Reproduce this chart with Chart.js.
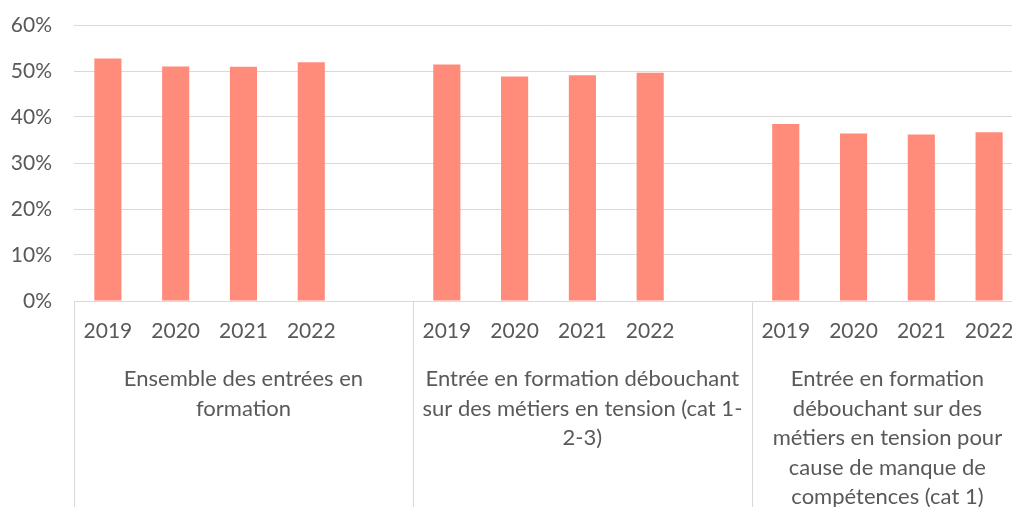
<!DOCTYPE html>
<html>
<head>
<meta charset="utf-8">
<script src="https://cdn.jsdelivr.net/npm/chart.js@4"></script>
<style>
  html, body { margin: 0; padding: 0; background: #fff; overflow: hidden; }
  canvas { display: block; }
</style>
</head>
<body>
<canvas id="chart" width="1024" height="507"></canvas>
<script>
// données
const years = ['2019', '2020', '2021', '2022'];
const groups = [
  ['Ensemble des entrées en', 'formation'],
  ['Entrée en formation débouchant', 'sur des métiers en tension (cat 1-', '2-3)'],
  ['Entrée en formation', 'débouchant sur des', 'métiers en tension pour', 'cause de manque de', 'compétences (cat 1)']
];
const values = [
  [0.527, 0.510, 0.509, 0.519],
  [0.514, 0.488, 0.491, 0.496],
  [0.385, 0.364, 0.362, 0.367]
];
// une case vide après les deux premiers groupes (comme dans l'original)
const blankAfter = [true, true, false];
const yTicks = [0, 0.1, 0.2, 0.3, 0.4, 0.5, 0.6];

const textColor = '#595959';
const gridColor = '#D9D9D9';
const barColor = '#FF8B7B';
const font = 'Lato';

// construction des catégories à plat
const labels = [];
const data = [];
const groupStart = [];
groups.forEach((g, i) => {
  groupStart.push(labels.length);
  years.forEach((y, j) => { labels.push(y); data.push(values[i][j]); });
  if (blankAfter[i]) { labels.push(''); data.push(null); }
});
groupStart.push(labels.length);

const groupLabels = {
  id: 'groupLabels',
  afterDraw(chart) {
    const { ctx, chartArea, scales } = chart;
    const x = scales.x;
    const half = (x.getPixelForValue(1) - x.getPixelForValue(0)) / 2;
    ctx.save();
    ctx.strokeStyle = gridColor;
    ctx.lineWidth = 1;
    for (let k = 0; k < groupStart.length; k++) {
      const px = Math.round(x.getPixelForValue(groupStart[k]) - half) + 0.5;
      ctx.beginPath();
      ctx.moveTo(px, chartArea.bottom);
      ctx.lineTo(px, chart.height);
      ctx.stroke();
    }
    ctx.fillStyle = textColor;
    ctx.font = '22px ' + font;
    ctx.textAlign = 'center';
    ctx.textBaseline = 'middle';
    groups.forEach((lines, i) => {
      const left = x.getPixelForValue(groupStart[i]) - half;
      const right = x.getPixelForValue(groupStart[i + 1]) - half;
      const cx = (left + right) / 2;
      lines.forEach((t, l) => ctx.fillText(t, cx, chartArea.bottom + 78 + l * 29.5));
    });
    ctx.restore();
  }
};

new Chart(document.getElementById('chart'), {
  type: 'bar',
  data: {
    labels: labels,
    datasets: [{
      data: data,
      backgroundColor: barColor,
      categoryPercentage: 1,
      barPercentage: 0.4
    }]
  },
  options: {
    responsive: false,
    animation: false,
    layout: { padding: { top: 25, right: 1, left: 0, bottom: 0 } },
    plugins: { legend: { display: false }, tooltip: { enabled: false } },
    scales: {
      x: {
        grid: { display: false, drawTicks: false },
        border: { display: true, color: gridColor },
        ticks: {
          color: textColor, font: { family: font, size: 21 },
          autoSkip: false, maxRotation: 0, padding: 18
        },
        afterFit(scale) { scale.height = 206; scale.paddingLeft = 0; scale.paddingRight = 0; }
      },
      y: {
        min: 0, max: 0.6,
        afterBuildTicks(scale) { scale.ticks = yTicks.map(v => ({ value: v })); },
        grid: { color: gridColor, drawTicks: false },
        border: { display: false },
        ticks: {
          color: textColor, font: { family: font, size: 21 }, padding: 22,
          callback: v => Math.round(v * 100) + '%'
        },
        afterFit(scale) { scale.width = 74; scale.paddingTop = 0; scale.paddingBottom = 0; }
      }
    }
  },
  plugins: [groupLabels]
});
</script>
</body>
</html>
